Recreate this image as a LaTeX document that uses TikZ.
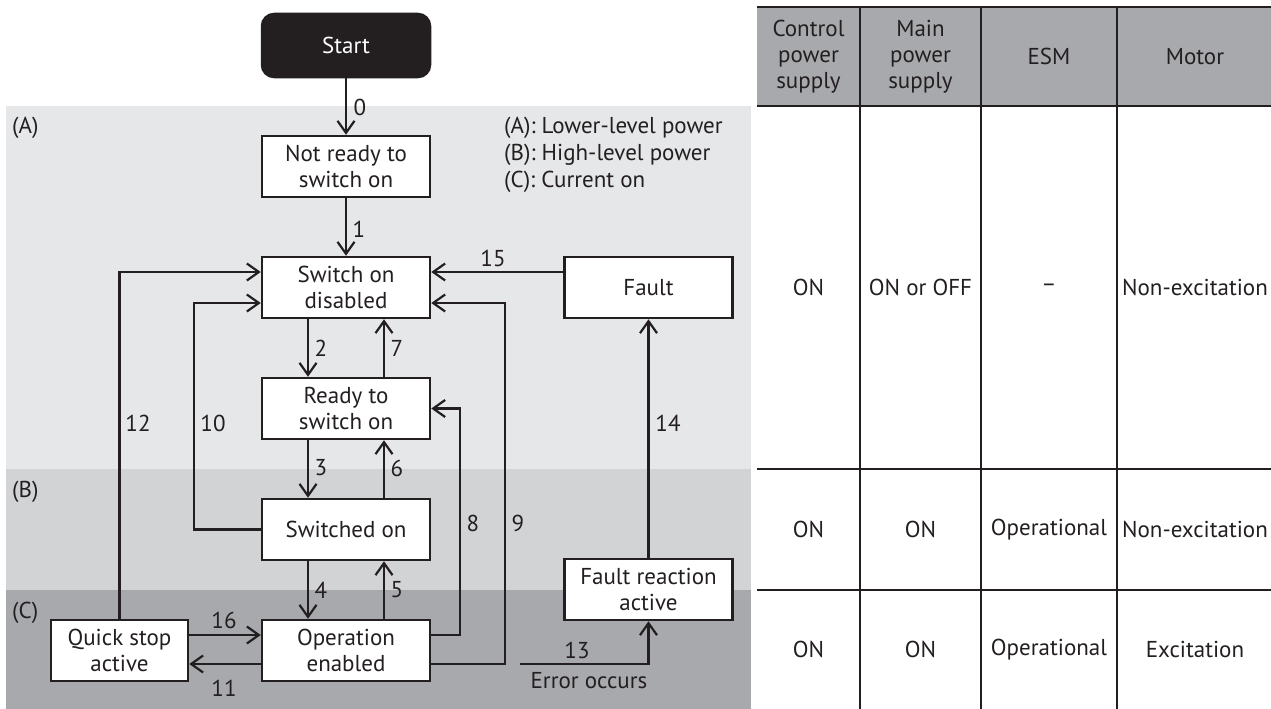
\documentclass[tikz,border=0pt]{standalone}
\usepackage{fontspec}
\setmainfont{PT Sans}
\usetikzlibrary{arrows.meta}
\definecolor{ink}{HTML}{231F20}
\definecolor{bgA}{HTML}{E6E7E8}
\definecolor{bgB}{HTML}{D1D3D4}
\definecolor{bgC}{HTML}{A7A9AC}
\begin{document}
\begin{tikzpicture}[x=1pt,y=-1pt,
  every node/.style={font=\fontsize{23}{26}\selectfont, text=ink},
  state/.style={draw=ink, line width=2.5pt, fill=white, minimum width=168pt, minimum height=61pt, inner sep=0pt, align=center},
  arr/.style={draw=ink, line width=2.2pt, -{Straight Barb[length=12pt,width=17pt]}},
  lbl/.style={inner sep=0pt, align=center},
  tline/.style={draw=ink, line width=1.8pt}]
\useasboundingbox (0,0) rectangle (1271,709);
% background zones
\fill[bgA] (6,106) rectangle (751,469);
\fill[bgB] (6,469) rectangle (751,590);
\fill[bgC] (6,590) rectangle (751,709);
\node[lbl, anchor=west] (zA) at (12,128) {(A)};
\node[lbl, anchor=west] (zB) at (12,492) {(B)};
\node[lbl, anchor=west] (zC) at (12,613) {(C)};
\node[lbl, anchor=west] (legA) at (504,128) {(A): Lower-level power};
\node[lbl, anchor=west] (legB) at (504,155) {(B): High-level power};
\node[lbl, anchor=west] (legC) at (504,182) {(C): Current on};
% states
\node[state, fill=ink, text=white, rounded corners=12pt, minimum height=63pt] (start) at (346,45.5) {Start};
\node[state] (nr) at (346,166.5) {Not ready to\\switch on};
\node[state] (sod) at (346,287.5) {Switch on\\disabled};
\node[state] (ready) at (346,408.5) {Ready to\\switch on};
\node[state] (son) at (346,529.5) {Switched on};
\node[state] (op) at (346,650.5) {Operation\\enabled};
\node[state, minimum width=137pt] (qs) at (119.5,650.5) {Quick stop\\active};
\node[state] (fault) at (648.5,287.5) {Fault};
\node[state] (fra) at (648.5,589.5) {Fault reaction\\active};
% transitions
\draw[arr] (start.south) -- (nr.north);
\draw[arr] (nr.south) -- (sod.north);
\draw[arr] ([xshift=-38pt]sod.south) -- ([xshift=-38pt]ready.north);
\draw[arr] ([xshift=38pt]ready.north) -- ([xshift=38pt]sod.south);
\draw[arr] ([xshift=-38pt]ready.south) -- ([xshift=-38pt]son.north);
\draw[arr] ([xshift=38pt]son.north) -- ([xshift=38pt]ready.south);
\draw[arr] ([xshift=-38pt]son.south) -- ([xshift=-38pt]op.north);
\draw[arr] ([xshift=38pt]op.north) -- ([xshift=38pt]son.south);
\draw[arr] (son.west) -- (194,529.5) -- (194,303) -- (sod.west |- 0,303);
\draw[arr] (qs.north) -- (119.5,272) -- (sod.west |- 0,272);
\draw[arr] (qs.east |- 0,635) -- (op.west |- 0,635);
\draw[arr] (op.west |- 0,664) -- (qs.east |- 0,664);
\draw[arr] (op.east |- 0,635) -- (460,635) -- (460,408.5) -- (ready.east);
\draw[arr] (op.east |- 0,664) -- (505,664) -- (505,303) -- (sod.east |- 0,303);
\coordinate (err) at (520,664);
\draw[arr] (err) -- (fra.south |- err) -- (fra.south);
\draw[arr] (fra.north) -- (fault.south);
\draw[arr] (fault.west |- 0,272) -- (sod.east |- 0,272);
% transition labels
\node[lbl] (t0) at (360,107) {0};
\node[lbl] (t1) at (359,229) {1};
\node[lbl] (t2) at (321,348) {2};
\node[lbl] (t7) at (397,348) {7};
\node[lbl] (t3) at (321,468) {3};
\node[lbl] (t6) at (397,468) {6};
\node[lbl] (t4) at (321,590) {4};
\node[lbl] (t5) at (397,590) {5};
\node[lbl] (t12) at (138,423) {12};
\node[lbl] (t10) at (213,423) {10};
\node[lbl] (t8) at (473,523) {8};
\node[lbl] (t9) at (518,523) {9};
\node[lbl] (t14) at (668,423) {14};
\node[lbl] (t15) at (493,258) {15};
\node[lbl] (t16) at (224,620) {16};
\node[lbl] (t11) at (224,688) {11};
\node[lbl] (t13) at (577,650) {13};
\node[lbl] (terr) at (589,681) {Error occurs};
% table
\fill[bgC] (757,7) rectangle (1271,106);
\draw[tline] (757,7) -- (1271,7);
\draw[tline] (757,106) -- (1271,106);
\draw[tline] (757,469) -- (1271,469);
\draw[tline] (757,590) -- (1271,590);
\draw[tline] (860,7) -- (860,709);
\draw[tline] (981,7) -- (981,709);
\draw[tline] (1117,7) -- (1117,709);
\node[lbl] (h1) at (808.5,56.5) {Control\\power\\supply};
\node[lbl] (h2) at (920.5,56.5) {Main\\power\\supply};
\node[lbl] (h3) at (1049,56.5) {ESM};
\node[lbl] (h4) at (1195,56.5) {Motor};
\node[lbl] (r1a) at (808.5,287.5) {ON};
\node[lbl] (r1b) at (920.5,287.5) {ON or OFF};
\node[lbl] (r1c) at (1049,287.5) {–};
\node[lbl] (r1d) at (1195,287.5) {Non-excitation};
\node[lbl] (r2a) at (808.5,529.5) {ON};
\node[lbl] (r2b) at (920.5,529.5) {ON};
\node[lbl] (r2c) at (1049,529.5) {Operational};
\node[lbl] (r2d) at (1195,529.5) {Non-excitation};
\node[lbl] (r3a) at (808.5,649.5) {ON};
\node[lbl] (r3b) at (920.5,649.5) {ON};
\node[lbl] (r3c) at (1049,649.5) {Operational};
\node[lbl] (r3d) at (1195,649.5) {Excitation};
\end{tikzpicture}
\end{document}
